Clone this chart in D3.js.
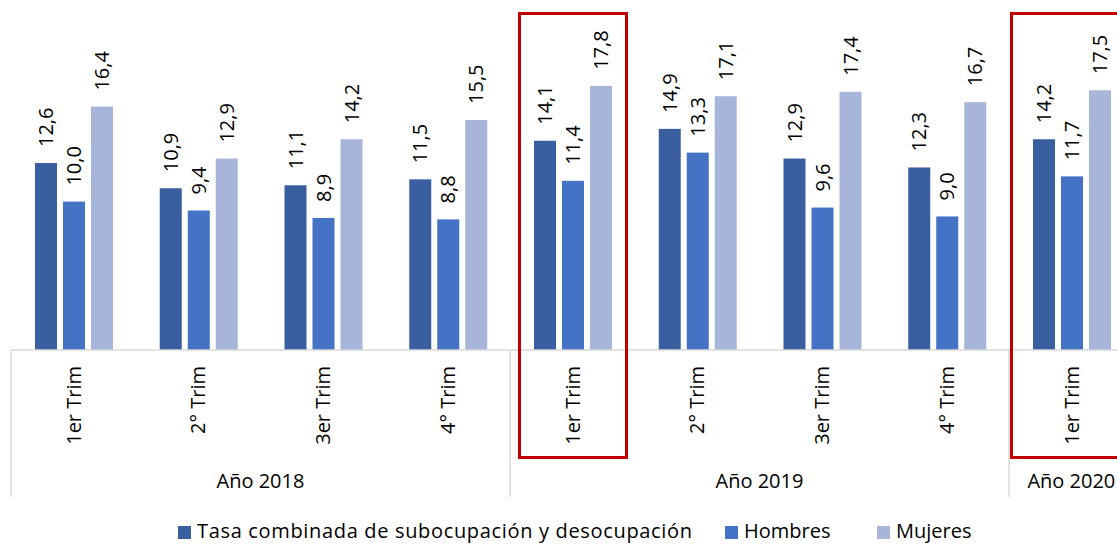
<!DOCTYPE html>
<html><head><meta charset="utf-8">
<script src="https://cdn.jsdelivr.net/npm/d3@7"></script>
<style>
html,body{margin:0;padding:0;background:#fff;}
svg{display:block;font-family:"Open Sans",sans-serif;}
</style></head>
<body><svg id="c" width="1117" height="544"></svg>
<script>
const categories = ["1er Trim","2° Trim","3er Trim","4° Trim","1er Trim","2° Trim","3er Trim","4° Trim","1er Trim"];
const years = ["Año 2018","Año 2019","Año 2020"];
const yearSpans = [4,4,1];
const seriesNames = ["Tasa combinada de subocupación y desocupación","Hombres","Mujeres"];
const tasa    = [12.6,10.9,11.1,11.5,14.1,14.9,12.9,12.3,14.2];
const hombres = [10.0, 9.4, 8.9, 8.8,11.4,13.3, 9.6, 9.0,11.7];
const mujeres = [16.4,12.9,14.2,15.5,17.8,17.1,17.4,16.7,17.5];
const highlighted = [4,8];
const colors = ["#3A5FA0","#4472C4","#A7B5DA"];

const series = [tasa,hombres,mujeres];
const svg = d3.select("#c");
const baseY = 350;
const x = d3.scaleBand().domain(d3.range(categories.length)).range([11, 11+9*124.75]).padding(0);
const xs = d3.scaleBand().domain(d3.range(3)).range([24,102]).paddingInner(0.2143).paddingOuter(0);
const y = d3.scaleLinear().domain([0,20]).range([baseY, baseY-296.8]);

// bars
const g = svg.append("g");
series.forEach((vals,si)=>{
  g.selectAll(".b"+si).data(vals).enter().append("rect")
    .attr("x",(d,i)=>x(i)+xs(si)).attr("width",xs.bandwidth())
    .attr("y",d=>y(d)).attr("height",d=>y(0)-y(d))
    .attr("fill",colors[si]);
  g.selectAll(".l"+si).data(vals).enter().append("text")
    .attr("transform",(d,i)=>`translate(${x(i)+xs(si)+xs.bandwidth()/2},${y(d)-16}) rotate(-90)`)
    .attr("dy","0.36em").attr("font-size",20).attr("fill","#000")
    .text(d=>d3.format(".1f")(d).replace(".",","));
});

// axis line
const ax = svg.append("g").attr("transform",`translate(0,${baseY})`)
  .call(d3.axisBottom(x).tickSize(0).tickFormat(i=>categories[i]));
ax.select(".domain").attr("stroke","#D9D9D9").attr("stroke-width",1.5).attr("d",`M${x.range()[0]},0H1117`);
ax.selectAll(".tick text").attr("font-size",20).attr("font-family","Open Sans, sans-serif").attr("fill","#000")
  .attr("transform","rotate(-90)").attr("text-anchor","end").attr("x",-16).attr("y",0).attr("dy","0.36em");

// year groups
let start=0;
const bounds=[0];
yearSpans.forEach(s=>{start+=s;bounds.push(start);});
bounds.forEach(b=>{
  if(b<categories.length) svg.append("line").attr("x1",x(b)).attr("x2",x(b)).attr("y1",baseY).attr("y2",497)
    .attr("stroke","#D9D9D9").attr("stroke-width",1.5);
});
years.forEach((yr,i)=>{
  const a=bounds[i], b=bounds[i+1];
  const x0=x(a), x1=x(b-1)+x.bandwidth();
  svg.append("text").attr("x",(x0+x1)/2).attr("y",488).attr("text-anchor","middle")
    .attr("font-size",20).attr("fill","#000").text(yr);
});

// highlight boxes (last one is shifted left as in the reference)
highlighted.forEach((i,k)=>{
  const off = k===highlighted.length-1 ? 2.5 : 9.5;
  svg.append("rect").attr("x",x(i)+off).attr("y",13.5).attr("width",107).attr("height",444)
    .attr("fill","none").attr("stroke","#C00000").attr("stroke-width",3);
});

// legend
const legX=[178,725,877];
seriesNames.forEach((n,i)=>{
  svg.append("rect").attr("x",legX[i]).attr("y",526).attr("width",13).attr("height",13).attr("fill",colors[i]);
  const t = svg.append("text").attr("x",legX[i]+19).attr("y",538).attr("font-size",20).attr("fill","#000").text(n);
  if(i===0) t.attr("textLength",495).attr("lengthAdjust","spacing");
});
</script></body></html>
